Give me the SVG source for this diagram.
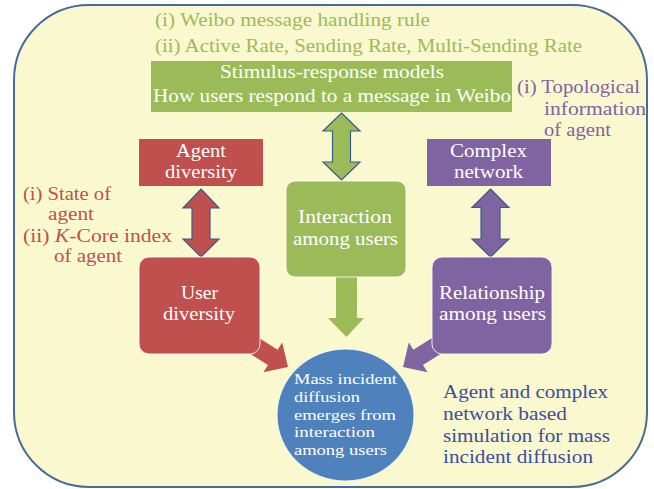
<svg xmlns="http://www.w3.org/2000/svg" width="654" height="489" viewBox="0 0 654 489">
<style>
text{font-family:"Liberation Serif","Times New Roman",serif;}
.box{font-size:18.5px;fill:#ffffff;text-anchor:middle;}
.gt{font-size:18.5px;fill:#9bbb59;}
.rt{font-size:18px;fill:#c0504d;}
.pt{font-size:19px;fill:#8064a2;}
.bt{font-size:19px;fill:#3a4ea0;}
.ct{font-size:15px;fill:#ffffff;}
.dbl{stroke:#385d8a;stroke-width:1.2;stroke-linejoin:miter;}
.edge{stroke:#ffffff;stroke-opacity:0.85;stroke-width:1;}
</style>
<rect id="frame" x="14" y="5" width="633" height="482" rx="75" ry="75" fill="#faf8cf" stroke="#4a6a9a" stroke-width="2"/>

<g id="connectors">
  <polygon class="dbl" fill="#9bbb59" points="341.5,113 360,131 350.5,131 350.5,162 360,162 341.5,180 323,162 332.5,162 332.5,131 323,131"/>
  <polygon class="dbl" fill="#c0504d" points="201,189 219,208 210,208 210,239 219,239 201,257 183,239 192,239 192,208 183,208"/>
  <polygon class="dbl" fill="#8064a2" points="490.5,189 509,207.5 500,207.5 500,239 509,239 490.5,257 472,239 481,239 481,207.5 472,207.5"/>
  <polygon fill="#9bbb59" points="336,270 357,270 357,318 364,318 346.5,337 328,318 336,318"/>
  <polygon fill="#c0504d" points="252.2,333.7 277.6,349.8 282.2,342.6 288,367 263.4,372.2 268,365 242.6,348.9"/>
  <polygon fill="#8064a2" points="438.8,333.7 413.4,349.8 408.8,342.6 403,367 427.6,372.2 423,365 448.4,348.9"/>
</g>

<g id="stimulus">
  <rect x="151" y="61" width="361" height="51" fill="#9bbb59"/>
  <text class="box" x="332" y="78" textLength="224" lengthAdjust="spacingAndGlyphs">Stimulus-response models</text>
  <text class="box" x="332" y="102" textLength="358" lengthAdjust="spacingAndGlyphs">How users respond to a message in Weibo</text>
</g>

<g id="agent-diversity">
  <rect x="139" y="139" width="124" height="47" fill="#c0504d"/>
  <text class="box" x="201" y="157" textLength="50" lengthAdjust="spacingAndGlyphs">Agent</text>
  <text class="box" x="201" y="178" textLength="72" lengthAdjust="spacingAndGlyphs">diversity</text>
</g>

<g id="complex-network">
  <rect x="427" y="139" width="124" height="47" fill="#8064a2"/>
  <text class="box" x="488.5" y="157" textLength="77" lengthAdjust="spacingAndGlyphs">Complex</text>
  <text class="box" x="488.5" y="178" textLength="69" lengthAdjust="spacingAndGlyphs">network</text>
</g>

<g id="interaction">
  <rect class="edge" x="286" y="181" width="120" height="96" rx="9" fill="#9bbb59"/>
  <text class="box" x="345" y="223" textLength="94" lengthAdjust="spacingAndGlyphs">Interaction</text>
  <text class="box" x="345.5" y="245" textLength="105" lengthAdjust="spacingAndGlyphs">among users</text>
</g>

<g id="user-diversity">
  <rect class="edge" x="139" y="257" width="121" height="97" rx="10" fill="#c0504d"/>
  <text class="box" x="199.5" y="299" textLength="37" lengthAdjust="spacingAndGlyphs">User</text>
  <text class="box" x="199" y="320" textLength="72" lengthAdjust="spacingAndGlyphs">diversity</text>
</g>

<g id="relationship">
  <rect class="edge" x="432" y="257" width="120" height="97" rx="10" fill="#8064a2"/>
  <text class="box" x="492" y="299" textLength="106" lengthAdjust="spacingAndGlyphs">Relationship</text>
  <text class="box" x="492.5" y="320" textLength="107" lengthAdjust="spacingAndGlyphs">among users</text>
</g>

<g id="mass-incident">
  <ellipse class="edge" cx="345.5" cy="415" rx="68.5" ry="66" fill="#4f81bd"/>
  <text class="ct" x="294" y="384" textLength="103" lengthAdjust="spacingAndGlyphs">Mass incident</text>
  <text class="ct" x="294" y="402" textLength="66" lengthAdjust="spacingAndGlyphs">diffusion</text>
  <text class="ct" x="294" y="419.5" textLength="102" lengthAdjust="spacingAndGlyphs">emerges from</text>
  <text class="ct" x="294" y="437" textLength="81" lengthAdjust="spacingAndGlyphs">interaction</text>
  <text class="ct" x="294" y="454.5" textLength="93" lengthAdjust="spacingAndGlyphs">among users</text>
</g>

<g id="label-rules">
  <text class="gt" x="155" y="26" textLength="275" lengthAdjust="spacingAndGlyphs">(i) Weibo message handling rule</text>
  <text class="gt" x="155" y="52" textLength="427" lengthAdjust="spacingAndGlyphs">(ii) Active Rate, Sending Rate, Multi-Sending Rate</text>
</g>

<g id="label-topology">
  <text class="pt" x="517" y="93" textLength="123" lengthAdjust="spacingAndGlyphs">(i) Topological</text>
  <text class="pt" x="544" y="115" textLength="102" lengthAdjust="spacingAndGlyphs">information</text>
  <text class="pt" x="544" y="136" textLength="67" lengthAdjust="spacingAndGlyphs">of agent</text>
</g>

<g id="label-state">
  <text class="rt" x="23" y="200" textLength="88" lengthAdjust="spacingAndGlyphs">(i) State of</text>
  <text class="rt" x="48" y="220" textLength="46" lengthAdjust="spacingAndGlyphs">agent</text>
  <text class="rt" x="23" y="242" textLength="149" lengthAdjust="spacingAndGlyphs">(ii) <tspan font-style="italic">K</tspan>-Core index</text>
  <text class="rt" x="54" y="262" textLength="68" lengthAdjust="spacingAndGlyphs">of agent</text>
</g>

<g id="label-simulation">
  <text class="bt" x="443" y="398" textLength="165" lengthAdjust="spacingAndGlyphs">Agent and complex</text>
  <text class="bt" x="443" y="420" textLength="124" lengthAdjust="spacingAndGlyphs">network based</text>
  <text class="bt" x="443" y="442" textLength="167" lengthAdjust="spacingAndGlyphs">simulation for mass</text>
  <text class="bt" x="443" y="463" textLength="150" lengthAdjust="spacingAndGlyphs">incident diffusion</text>
</g>
</svg>
